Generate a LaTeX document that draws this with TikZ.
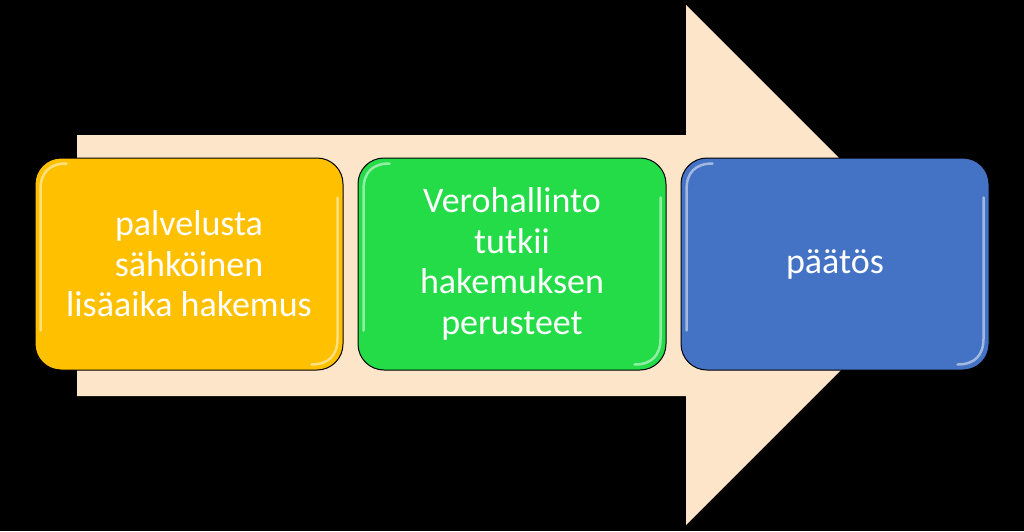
\documentclass[tikz,border=0pt]{standalone}
\usepackage{fontspec}
\setmainfont{Carlito}
\usetikzlibrary{calc}
\definecolor{peach}{HTML}{FDE5CA}
\definecolor{orangeC}{HTML}{FFC000}
\definecolor{greenC}{HTML}{24DC48}
\definecolor{blueC}{HTML}{4472C4}
\tikzset{
  stagebox/.style={draw=black, line width=1pt, rounded corners=26pt,
    minimum width=308pt, minimum height=212pt, align=center, text=white,
    font=\fontsize{36}{40.5}\selectfont, inner sep=0pt},
  gloss/.style={draw=white, line width=2.5pt, opacity=0.5, line cap=round}
}
\newcommand{\glossy}[1]{%
  \draw[gloss] ($(#1.south west)+(6,-40)$) -- ($(#1.north west)+(6,32)$)
    .. controls ($(#1.north west)+(6,15)$) and ($(#1.north west)+(15,6)$) .. ($(#1.north west)+(32,6)$);
  \draw[gloss] ($(#1.north east)+(-6,40)$) -- ($(#1.south east)+(-6,-32)$)
    .. controls ($(#1.south east)+(-6,-15)$) and ($(#1.south east)+(-15,-6)$) .. ($(#1.south east)+(-32,-6)$);
}
\begin{document}
\begin{tikzpicture}[x=1pt,y=-1pt]
  \fill[black] (0,0) rectangle (1024,531);
  \useasboundingbox (0,0) rectangle (1024,531);
  % big arrow
  \fill[peach] (77,135) -- (686,135) -- (686,5) -- (946,265) -- (686,525)
    -- (686,396) -- (77,396) -- cycle;
  % stages
  \node[stagebox, fill=orangeC] (s1) at (189,264) {palvelusta\\sähköinen\\lisäaika hakemus};
  \node[stagebox, fill=greenC] (s2) at (512,264) {Verohallinto\\tutkii\\hakemuksen\\perusteet};
  \node[stagebox, fill=blueC] (s3) at (835,264) {päätös};
  \glossy{s1}
  \glossy{s2}
  \glossy{s3}
\end{tikzpicture}
\end{document}
